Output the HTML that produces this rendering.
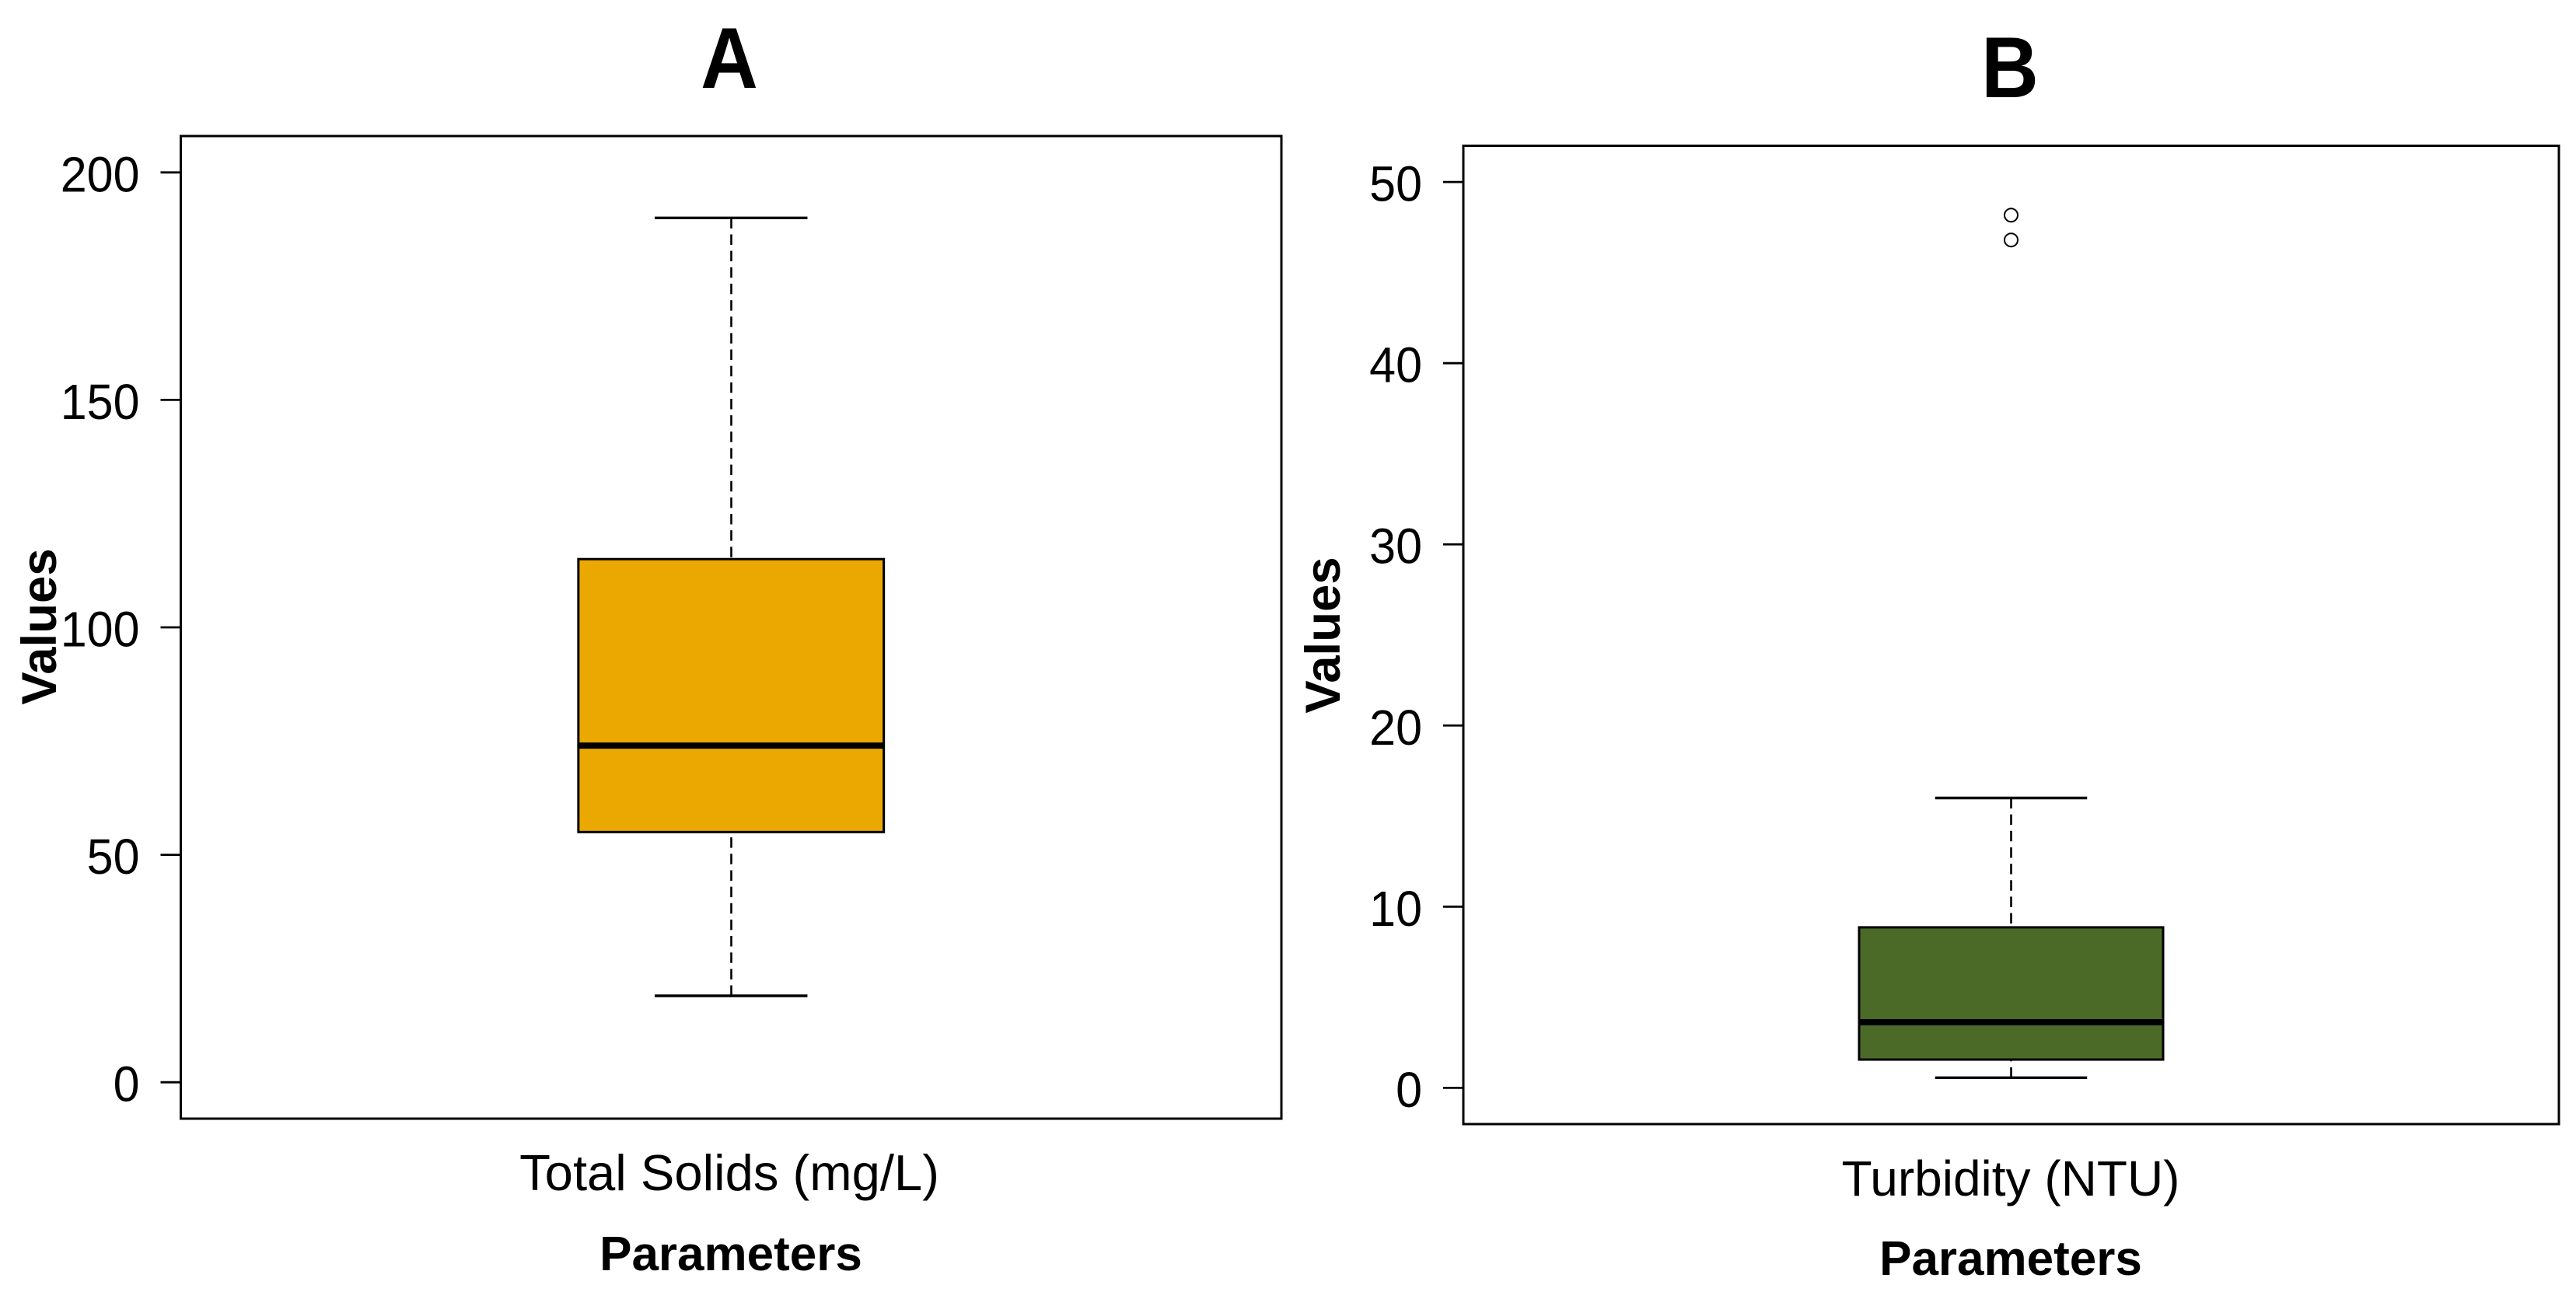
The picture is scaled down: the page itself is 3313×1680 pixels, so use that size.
<!DOCTYPE html>
<html lang="en">
<head>
<meta charset="utf-8">
<title>Box plots of Total Solids and Turbidity</title>
<style>
  html, body { margin: 0; padding: 0; background: #fff; }
  body { width: 3313px; height: 1680px; overflow: hidden; }
  svg { display: block; }
  text { font-family: "Liberation Sans", Arial, sans-serif; fill: #000; }
  .panel-title { font-size: 111px; font-weight: 700; text-anchor: middle; }
  .axis-title { font-size: 62px; font-weight: 700; text-anchor: middle; }
  .axis-title-y { font-size: 63.5px; font-weight: 700; text-anchor: middle; }
  .tick-label { font-size: 64px; text-anchor: end; }
  .category-label { font-size: 65.2px; text-anchor: middle; }
  .category-label-b { font-size: 64px; text-anchor: middle; }
</style>
</head>
<body>
<svg id="figure" xmlns="http://www.w3.org/2000/svg" width="3313" height="1680" viewBox="0 0 3313 1680">
  <rect x="0" y="0" width="3313" height="1680" fill="#ffffff"/>
  <text class="panel-title" transform="translate(938 113) scale(0.92 1)">A</text>
  <text class="panel-title" transform="translate(2585 125) scale(0.92 1)">B</text>
  <text class="axis-title" x="940" y="1634">Parameters</text>
  <text class="axis-title" x="2586" y="1640">Parameters</text>
  <text class="axis-title-y" transform="translate(72 806) rotate(-90)">Values</text>
  <text class="axis-title-y" transform="translate(1723 817) rotate(-90)">Values</text>
  <text class="category-label" x="938" y="1531">Total Solids (mg/L)</text>
  <text class="category-label-b" x="2586" y="1538">Turbidity (NTU)</text>
  <g id="panel-a"></g>
  <g id="panel-b"></g>
</svg>
<script>
// Panel A data: Total Solids (mg/L)
const ticksA = [0, 50, 100, 150, 200];
const tickLabelsA = ["0", "50", "100", "150", "200"];
const whiskerLowA = 19;
const quartile1A = 55;
const medianA = 74;
const quartile3A = 115;
const whiskerHighA = 190;
const outliersA = [];

// Panel B data: Turbidity (NTU)
const ticksB = [0, 10, 20, 30, 40, 50];
const tickLabelsB = ["0", "10", "20", "30", "40", "50"];
const whiskerLowB = 0.56;
const quartile1B = 1.56;
const medianB = 3.62;
const quartile3B = 8.86;
const whiskerHighB = 16;
const outliersB = [46.8, 48.17];

const SVG_NS = 'http://www.w3.org/2000/svg';

function mk(parent, tag, attrs) {
  const el = document.createElementNS(SVG_NS, tag);
  for (const k in attrs) el.setAttribute(k, attrs[k]);
  parent.appendChild(el);
  return el;
}

function linearScale(domain, range) {
  return function (v) {
    return range[0] + (v - domain[0]) / (domain[1] - domain[0]) * (range[1] - range[0]);
  };
}

function drawPanel(group, frame, domain, ticks, tickLabels, s, fill) {
  const y = linearScale(domain, [frame.bottom, frame.top]);
  const cx = (frame.left + frame.right) / 2;
  const wx = Math.round(cx - 0.5) + 0.5;
  const boxW = (frame.right - frame.left) * 0.2775;
  const capW = boxW / 2;
  let el;

  // Whiskers: dash pattern runs from the cap toward the box
  el = mk(group, 'line', { x1: wx, x2: wx, y1: y(s.high), y2: y(s.q3), stroke: '#000', 'stroke-width': 2.6, 'stroke-dasharray': '13.5 7.65' });
  
  
  el = mk(group, 'line', { x1: wx, x2: wx, y1: y(s.low), y2: y(s.q1), stroke: '#000', 'stroke-width': 2.6, 'stroke-dasharray': '13.5 7.65' });
  
  

  // Caps
  el = mk(group, 'line', { x1: cx - capW / 2, x2: cx + capW / 2, y1: y(s.high), y2: y(s.high), stroke: '#000', 'stroke-width': 3.4 });
  
  
  el = mk(group, 'line', { x1: cx - capW / 2, x2: cx + capW / 2, y1: y(s.low), y2: y(s.low), stroke: '#000', 'stroke-width': 3.4 });
  
  

  // Box
  el = mk(group, 'rect', { x: cx - boxW / 2, y: y(s.q3), width: boxW, height: y(s.q1) - y(s.q3), fill: fill, stroke: '#000', 'stroke-width': 3 });
  
  

  // Median
  el = mk(group, 'line', { x1: cx - boxW / 2, x2: cx + boxW / 2, y1: y(s.median), y2: y(s.median), stroke: '#000', 'stroke-width': 8 });
  
  

  // Outliers
  s.outliers.forEach(function (v) {
    const point = mk(group, 'circle', { cx: cx, cy: y(v), r: 8.5, fill: 'none', stroke: '#000', 'stroke-width': 2 });
    
    
  });

  // Y axis ticks and labels
  ticks.forEach(function (t, i) {
    const tick = mk(group, 'line', { x1: frame.left - 26, x2: frame.left, y1: y(t), y2: y(t), stroke: '#000', 'stroke-width': 2.8 });
    
    
    const label = mk(group, 'text', { class: 'tick-label', transform: 'translate(' + (frame.left - 53) + ' ' + (y(t) + 24.5) + ') scale(0.953 1)' });
    
    
    label.textContent = tickLabels[i];
  });

  // Plot frame
  el = mk(group, 'rect', { x: frame.left, y: frame.top, width: frame.right - frame.left, height: frame.bottom - frame.top, fill: 'none', stroke: '#000', 'stroke-width': 3 });
  
  
}

drawPanel(
  document.getElementById('panel-a'),
  { left: 232.5, right: 1648, top: 175, bottom: 1439 },
  [-8, 208], ticksA, tickLabelsA,
  { low: whiskerLowA, q1: quartile1A, median: medianA, q3: quartile3A, high: whiskerHighA, outliers: outliersA },
  '#EBA800'
);

drawPanel(
  document.getElementById('panel-b'),
  { left: 1882, right: 3291, top: 187.5, bottom: 1446 },
  [-2, 52], ticksB, tickLabelsB,
  { low: whiskerLowB, q1: quartile1B, median: medianB, q3: quartile3B, high: whiskerHighB, outliers: outliersB },
  '#4B6A27'
);
</script>
</body>
</html>
